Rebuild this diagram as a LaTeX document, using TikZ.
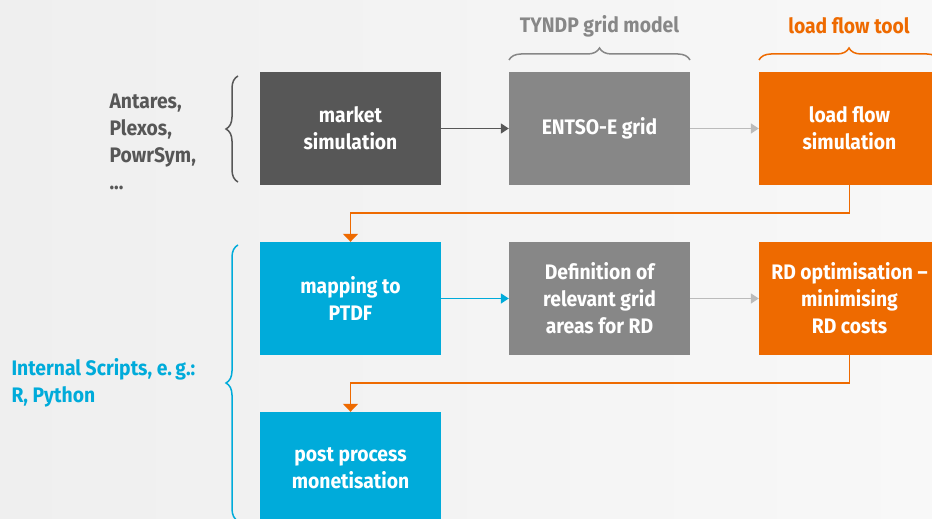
\documentclass[tikz,border=0pt]{standalone}
\usepackage{fontspec}
\setmainfont{Fira Sans}[FakeStretch=0.92]
\usetikzlibrary{arrows.meta, decorations.pathreplacing}

\definecolor{darkbox}{HTML}{575757}
\definecolor{greybox}{HTML}{878787}
\definecolor{orangebox}{HTML}{EE6A00}
\definecolor{bluebox}{HTML}{00ABDA}
\definecolor{lightarrow}{HTML}{BBBBBB}
\definecolor{bgleft}{HTML}{EFEFEF}
\definecolor{bgright}{HTML}{F8F8F8}

\tikzset{
  procbox/.style={minimum width=181pt, minimum height=113pt, inner sep=0pt,
    text=white, font=\bfseries\fontsize{21}{27}\selectfont, align=center},
  flow/.style={line width=1.5pt, -{Triangle[width=10pt,length=8pt]}},
  elbow/.style={line width=1.5pt, orangebox, -{Triangle[width=15pt,length=8pt]}},
  curly/.style={decorate, decoration={brace, amplitude=12pt}, line width=1.5pt},
  sidelabel/.style={font=\bfseries\fontsize{21}{27}\selectfont, align=left, anchor=west},
  toplabel/.style={font=\bfseries\fontsize{21}{27}\selectfont},
}

\begin{document}
\begin{tikzpicture}[x=1pt, y=-1pt]
  % Canvas
  \clip (0,0) rectangle (932,519);
  \shade[left color=bgleft, right color=bgright] (0,0) rectangle (932,519);

  % Process boxes
  \node[procbox, fill=darkbox] (market) at (350.5,128.5) {market\\simulation};
  \node[procbox, fill=greybox] (entsoe) at (599.5,128.5) {ENTSO-E grid};
  \node[procbox, fill=orangebox] (loadflow) at (849.5,128.5) {load flow\\simulation};
  \node[procbox, fill=bluebox] (mapping) at (350.5,298.5) {mapping to\\PTDF};
  \node[procbox, fill=greybox] (areas) at (599.5,298.5) {Definition of\\relevant grid\\areas for RD};
  \node[procbox, fill=orangebox] (rdopt) at (849.5,298.5) {RD optimisation --\\minimising\\RD costs};
  \node[procbox, fill=bluebox] (post) at (350.5,468.5) {post process\\monetisation};

  % Arrows between boxes
  \draw[flow, darkbox] (market) -- (entsoe);
  \draw[flow, lightarrow] (entsoe) -- (loadflow);
  \draw[flow, bluebox] (mapping) -- (areas);
  \draw[flow, lightarrow] (areas) -- (rdopt);
  \draw[elbow] (loadflow.south) -- ++(0,28) -| (mapping.north);
  \draw[elbow] (rdopt.south) -- ++(0,28) -| (post.north);

  % Braces and their labels
  \coordinate (tyndpL) at (509,60);
  \coordinate (tyndpR) at (690,60);
  \coordinate (toolL) at (759,60);
  \coordinate (toolR) at (939,60);
  \coordinate (marketB) at (238,182);
  \coordinate (marketT) at (238,76);
  \coordinate (scriptB) at (238,521);
  \coordinate (scriptT) at (238,245);
  \draw[curly, greybox] (tyndpL) -- (tyndpR);
  \draw[curly, orangebox] (toolL) -- (toolR);
  \draw[curly, darkbox] (marketB) -- (marketT);
  \draw[curly, bluebox] (scriptB) -- (scriptT);

  \node[toplabel, text=greybox] (tyndp) at (599.5,26) {TYNDP grid model};
  \node[toplabel, text=orangebox] (tool) at (849,26) {load flow tool};
  \node[sidelabel, text=darkbox] (marketsw) at (106,141.5) {Antares,\\Plexos,\\PowrSym,\\...};
  \node[sidelabel, text=bluebox] (scripts) at (8,383) {Internal Scripts, e.\,g.:\\R, Python};
\end{tikzpicture}
\end{document}
